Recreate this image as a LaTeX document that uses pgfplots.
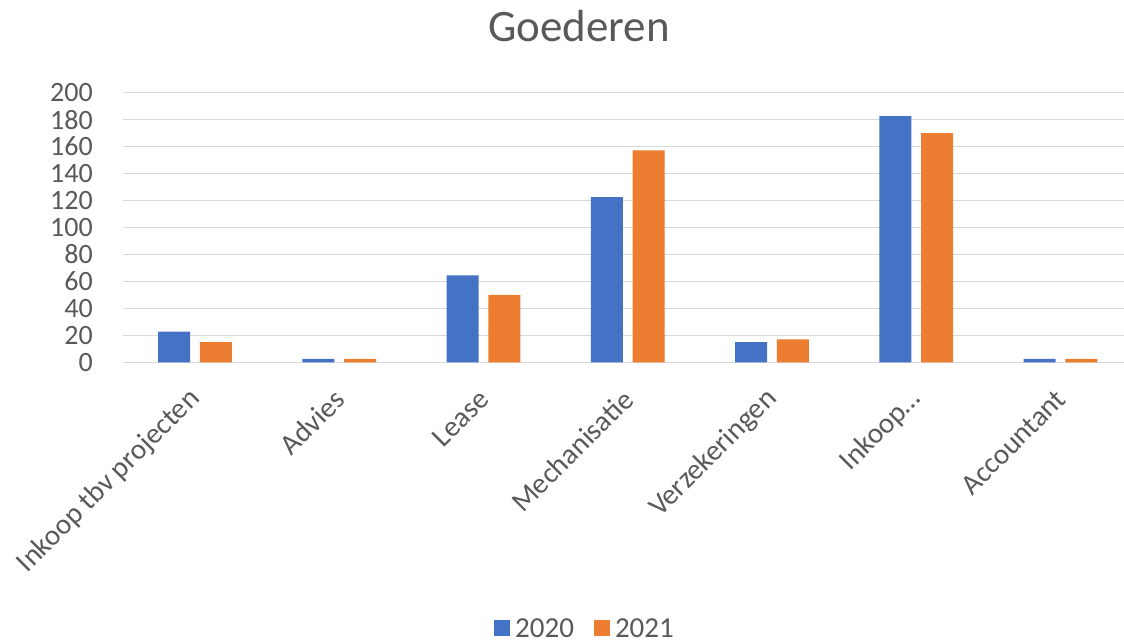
\documentclass[border=0pt]{standalone}
\usepackage{pgfplots}
\pgfplotsset{compat=1.18}
\usepackage{fontspec}
\setmainfont{Carlito}
\definecolor{cblue}{HTML}{4472C4}
\definecolor{corange}{HTML}{ED7D31}
\definecolor{ctext}{HTML}{595959}
\definecolor{cgrid}{HTML}{D9D9D9}
\begin{document}
\begin{tikzpicture}
\useasboundingbox (0pt,0pt) rectangle (1124pt,643pt);
\node[anchor=base, text=ctext, font=\fontsize{45}{54}\selectfont, inner sep=0pt] at (579pt,601pt) {Goederen};
\begin{axis}[
  at={(122.9pt,280.7pt)}, anchor=south west,
  scale only axis, width=1009.7pt, height=269.6pt,
  xmin=-0.5, xmax=6.5, ymin=0, ymax=200,
  ybar=9.7pt, bar width=32pt,
  ytick={0,20,...,200},
  xtick={0,1,2,3,4,5,6},
  xticklabels={{Inkoop tbv projecten}, {Advies}, {Lease}, {Mechanisatie}, {Verzekeringen}, {Inkoop…}, {Accountant}},
  axis line style={draw=none},
  major tick length=0pt,
  ymajorgrids, grid style={cgrid, line width=1.4pt},
  /pgf/number format/assume math mode=true,
  yticklabel style={font=\fontsize{28}{34}\selectfont, text=ctext, anchor=east, inner sep=0pt, xshift=-30pt},
  xticklabel style={font=\fontsize{29}{35}\selectfont, text=ctext, anchor=east, rotate=45, inner sep=0pt, xshift=-22.5pt, yshift=-23.3pt},
  legend style={at={(0.4577,-0.987)}, anchor=center, draw=none, fill=none, legend columns=-1,
    font=\fontsize{29}{34}\selectfont, text=ctext,
    /tikz/every even column/.append style={column sep=18pt}},
  legend image code/.code={\fill[#1] (0pt,-8pt) rectangle (16pt,8pt); \path (19pt,0pt);},
]
\addplot[fill=cblue, draw=none] coordinates {(0,22.7) (1,2.5) (2,64.5) (3,122.6) (4,15) (5,182.7) (6,2.5)};
\addplot[fill=corange, draw=none] coordinates {(0,15) (1,2.5) (2,50) (3,157.3) (4,17) (5,170) (6,2.5)};
\legend{2020,2021}
\end{axis}
\end{tikzpicture}
\end{document}
